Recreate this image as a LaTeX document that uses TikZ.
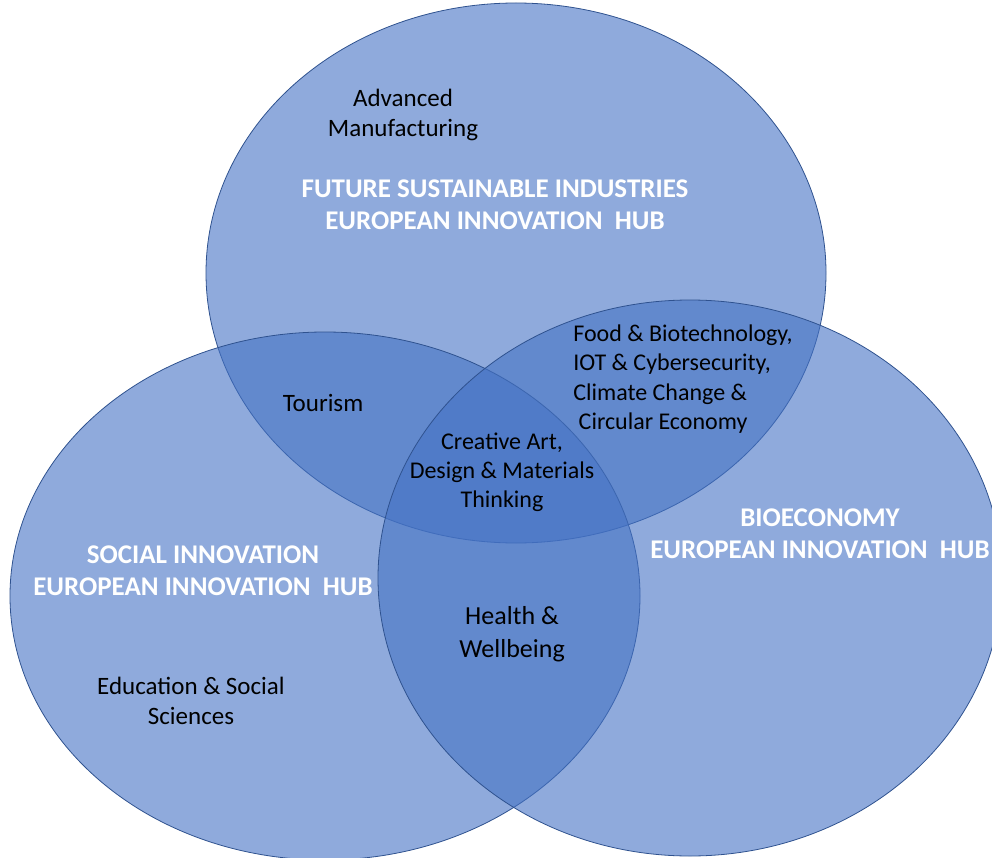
\documentclass[tikz,border=0pt]{standalone}
\usepackage{fontspec}
\setmainfont{Carlito}
\usetikzlibrary{shapes.geometric}
\definecolor{hubblue}{RGB}{68,114,196}
\definecolor{hubline}{RGB}{47,82,143}
\tikzset{
	hub/.style = {ellipse, draw = hubline, line width = 0.8pt, fill = hubblue, fill opacity = 0.6, inner sep = 0pt, outer sep = 0pt},
	hubname/.style = {align = center, text = white, font = \fontsize{27}{32}\selectfont\bfseries},
	topic/.style = {align = center, font = \fontsize{25}{30}\selectfont}
}
\begin{document}
\begin{tikzpicture}[x = 1pt, y = -1pt]
		\useasboundingbox (0, 0) rectangle (992, 858);
		\node[hub, minimum width = 620pt, minimum height = 540pt] (industries) at (516, 273) {};
		\node[hub, minimum width = 630pt, minimum height = 528pt] (social) at (325, 596) {};
		\node[hub, minimum width = 624pt, minimum height = 556pt] (bio) at (690, 578) {};
		\node[hubname] (industriesname) at (495, 205) {FUTURE SUSTAINABLE INDUSTRIES\\EUROPEAN INNOVATION\ \ HUB};
		\node[hubname] (socialname) at (203, 571) {SOCIAL INNOVATION\\EUROPEAN INNOVATION\ \ HUB};
		\node[hubname] (bioname) at (820, 534) {BIOECONOMY\\EUROPEAN INNOVATION\ \ HUB};
		\node[topic] (manufacturing) at (403, 115) {Advanced\\Manufacturing};
		\node[topic] (tourism) at (323, 403) {Tourism};
		\node[topic, align = left, font = \fontsize{24}{29.5}\selectfont] (food) at (683, 379) {Food \& Biotechnology,\\IOT \& Cybersecurity,\\Climate Change \&\\\ Circular Economy};
		\node[topic, font = \fontsize{24}{29}\selectfont] (creative) at (502, 472) {Creative Art,\\Design \& Materials\\Thinking};
		\node[topic, font = \fontsize{26}{33}\selectfont] (health) at (512, 634) {Health \&\\Wellbeing};
		\node[topic] (education) at (191, 701) {Education \& Social\\Sciences};
\end{tikzpicture}
\end{document}
